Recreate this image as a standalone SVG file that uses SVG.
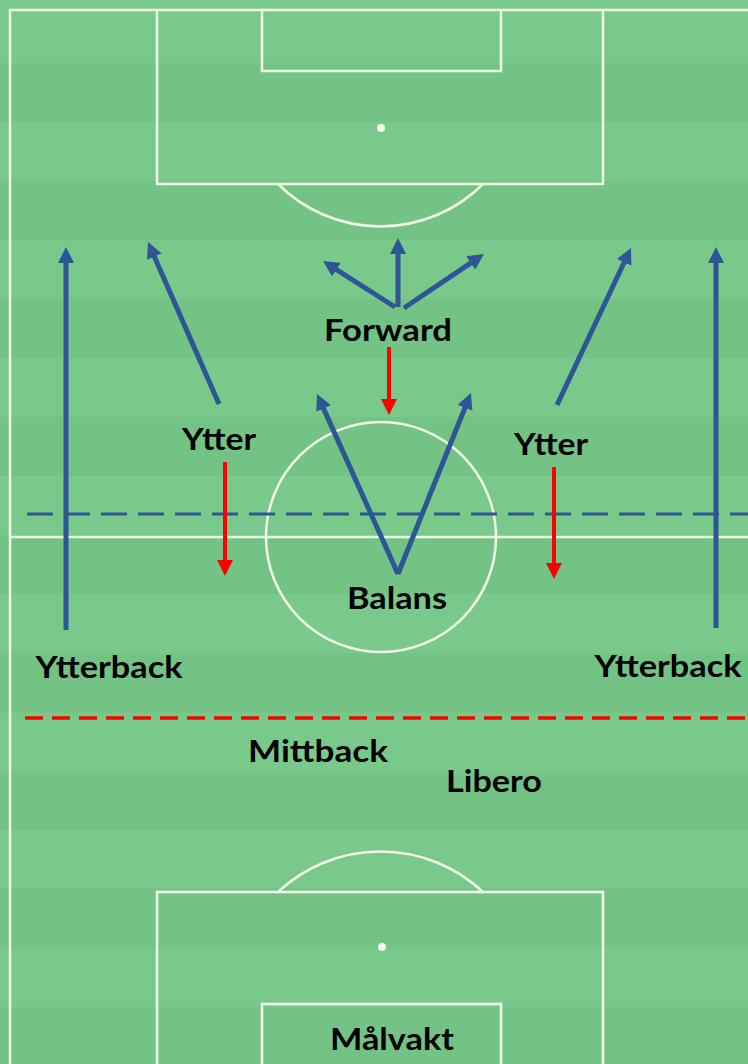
<svg xmlns="http://www.w3.org/2000/svg" width="748" height="1064" viewBox="0 0 748 1064">
<defs>
<style>
.light{fill:#79CA8A}
.dark{fill:#73C384}
.pl{fill:none;stroke:#F1FAE8;stroke-width:2.5}
.spot{fill:#F6FCF2}
.blue{stroke:#2F5597;stroke-width:5;fill:none;marker-end:url(#ab)}
.red{stroke:#FF0000;stroke-width:4;fill:none;marker-end:url(#ar)}
.lbl{font-family:Lato,"Liberation Sans",sans-serif;font-weight:700;font-size:31px;fill:#000;text-anchor:middle}
</style>
<marker id="ab" markerUnits="userSpaceOnUse" markerWidth="16" markerHeight="16" refX="6" refY="8" orient="auto" viewBox="0 0 16 16">
<path d="M0,0 L16,8 L0,16 z" fill="#2F5597"/>
</marker>
<marker id="ar" markerUnits="userSpaceOnUse" markerWidth="16" markerHeight="16" refX="6" refY="8" orient="auto" viewBox="0 0 16 16">
<path d="M0,0 L16,8 L0,16 z" fill="#FF0000"/>
</marker>
</defs>
<g id="stripes">
<rect class="light" x="0" y="0" width="748" height="63"/>
<rect class="dark" x="0" y="63" width="748" height="59"/>
<rect class="light" x="0" y="122" width="748" height="59"/>
<rect class="dark" x="0" y="181" width="748" height="59"/>
<rect class="light" x="0" y="240" width="748" height="59"/>
<rect class="dark" x="0" y="299" width="748" height="59"/>
<rect class="light" x="0" y="358" width="748" height="59"/>
<rect class="dark" x="0" y="417" width="748" height="59"/>
<rect class="light" x="0" y="476" width="748" height="59"/>
<rect class="dark" x="0" y="535" width="748" height="59"/>
<rect class="light" x="0" y="594" width="748" height="59"/>
<rect class="dark" x="0" y="653" width="748" height="60"/>
<rect class="light" x="0" y="713" width="748" height="60"/>
<rect class="dark" x="0" y="773" width="748" height="57"/>
<rect class="light" x="0" y="830" width="748" height="58"/>
<rect class="dark" x="0" y="888" width="748" height="59"/>
<rect class="light" x="0" y="947" width="748" height="60"/>
<rect class="dark" x="0" y="1007" width="748" height="57"/>
</g>
<g id="pitch">
<path class="pl" d="M10,1066 L10,10 L750,10"/>
<path class="pl" d="M157,10 L157,184 L603,184 L603,10"/>
<path class="pl" d="M262,10 L262,71 L501,71 L501,10"/>
<path class="pl" d="M278,184 A145,145 0 0 0 483,184"/>
<circle class="spot" cx="381" cy="128" r="4"/>
<path class="pl" d="M10,537 L750,537"/>
<circle class="pl" cx="381" cy="537" r="115"/>
<path class="pl" d="M157,1066 L157,892 L603,892 L603,1066"/>
<path class="pl" d="M262,1066 L262,1004 L501,1004 L501,1066"/>
<path class="pl" d="M278,892 A150,150 0 0 1 483,892"/>
<circle class="spot" cx="382" cy="947" r="4"/>
</g>
<g id="connectors">
<line x1="27" y1="514" x2="748" y2="514" stroke="#2F5597" stroke-width="3" stroke-dasharray="26 11"/>
<line x1="25" y1="718" x2="748" y2="718" stroke="#FF0000" stroke-width="3.5" stroke-dasharray="18 9"/>
<line class="blue" x1="66" y1="630" x2="66" y2="257"/>
<line class="blue" x1="716" y1="628" x2="716" y2="257"/>
<line class="blue" x1="219" y1="404" x2="152" y2="251.2"/>
<line class="blue" x1="557" y1="405" x2="626.7" y2="257"/>
<line class="blue" x1="395" y1="307" x2="331.4" y2="266.4"/>
<line class="blue" x1="398" y1="307" x2="398" y2="248"/>
<line class="blue" x1="404" y1="308" x2="475.7" y2="259.6"/>
<line class="blue" x1="398" y1="574" x2="321.1" y2="403.1"/>
<line class="blue" x1="398" y1="574" x2="467.2" y2="402.3"/>
<line class="red" x1="389" y1="347" x2="389" y2="405"/>
<line class="red" x1="225" y1="462" x2="225" y2="566"/>
<line class="red" x1="554" y1="467" x2="554" y2="569"/>
</g>
<g id="forward"><text class="lbl" x="388" y="341" textLength="128" lengthAdjust="spacingAndGlyphs">Forward</text></g>
<g id="ytter-left"><text class="lbl" x="219" y="450" textLength="74" lengthAdjust="spacingAndGlyphs">Ytter</text></g>
<g id="ytter-right"><text class="lbl" x="551" y="455" textLength="74" lengthAdjust="spacingAndGlyphs">Ytter</text></g>
<g id="balans"><text class="lbl" x="397" y="609" textLength="100" lengthAdjust="spacingAndGlyphs">Balans</text></g>
<g id="ytterback-left"><text class="lbl" x="109" y="678" textLength="147" lengthAdjust="spacingAndGlyphs">Ytterback</text></g>
<g id="ytterback-right"><text class="lbl" x="668" y="677" textLength="147" lengthAdjust="spacingAndGlyphs">Ytterback</text></g>
<g id="mittback"><text class="lbl" x="318" y="762" textLength="140" lengthAdjust="spacingAndGlyphs">Mittback</text></g>
<g id="libero"><text class="lbl" x="494" y="792" textLength="96" lengthAdjust="spacingAndGlyphs">Libero</text></g>
<g id="malvakt"><text class="lbl" x="392" y="1050" textLength="124" lengthAdjust="spacingAndGlyphs">Målvakt</text></g>
</svg>
